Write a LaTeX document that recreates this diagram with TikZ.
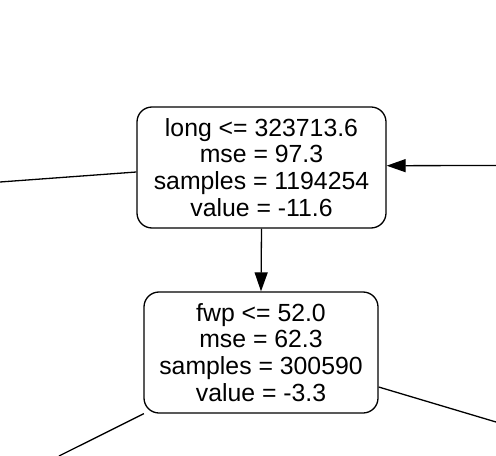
\documentclass[tikz,border=0pt]{standalone}
\usepackage{fontspec}
\setmainfont{Liberation Sans}
\usetikzlibrary{arrows.meta}
\begin{document}
\begin{tikzpicture}[x=1bp,y=-1bp,
  treenode/.style={draw,line width=1.3bp,rounded corners=15bp,align=center,inner sep=0pt,
    font=\fontsize{24.8bp}{26.8bp}\selectfont},
  edge/.style={line width=1.3bp},
  arr/.style={edge,-{Triangle[length=19bp,width=13bp]}}]
\useasboundingbox (0,0) rectangle (496,456);
\node[treenode,minimum width=249bp,minimum height=121bp] (top) at (261.5,167.5)
  {long <= 323713.6\\mse = 97.3\\samples = 1194254\\value = -11.6};
\node[treenode,minimum width=234bp,minimum height=121bp] (bot) at (261,352.5)
  {fwp <= 52.0\\mse = 62.3\\samples = 300590\\value = -3.3};
\coordinate (L) at (0,182);
\coordinate (R) at (496,165.5);
\coordinate (BL) at (59,456);
\coordinate (BR) at (496,422);
\draw[edge] (L) -- ([yshift=-4.5bp]top.west);
\draw[arr] (R) -- ([yshift=1.8bp]top.east);
\draw[arr] (top.south) -- (bot.north);
\draw[edge] ([xshift=0.5bp]bot.south west) -- (BL);
\draw[edge] ([yshift=-34.5bp]bot.east) -- (BR);
\end{tikzpicture}
\end{document}
